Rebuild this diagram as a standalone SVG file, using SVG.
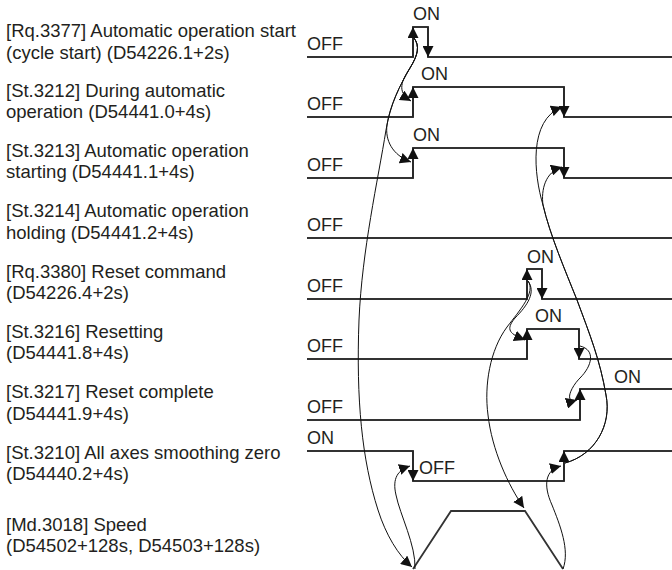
<svg xmlns="http://www.w3.org/2000/svg" width="672" height="570" viewBox="0 0 672 570">
<style>
.lbl{font-family:"Liberation Sans",Arial,sans-serif;font-size:18.5px;fill:#231f20}
.st{font-family:"Liberation Sans",Arial,sans-serif;font-size:18px;fill:#231f20}
.wave{fill:none;stroke:#333;stroke-width:1.8}
.edge{stroke:#222;stroke-width:1.5;marker-end:url(#ah)}
.cv{fill:none;stroke:#111;stroke-width:1;marker-end:url(#ah)}
</style>
<defs>
<marker id="ah" markerUnits="userSpaceOnUse" markerWidth="11" markerHeight="11" refX="11" refY="5.5" orient="auto" viewBox="0 0 11 11">
<path d="M0,0 L11,5.5 L0,11 z" fill="#111"/>
</marker>
</defs>
<rect width="672" height="570" fill="#fff"/>

<g id="row1">
<text class="lbl" x="6" y="37">[Rq.3377] Automatic operation start</text>
<text class="lbl" x="6" y="59">(cycle start) (D54226.1+2s)</text>
<text class="st" x="307" y="50">OFF</text>
<text class="st" x="413" y="20">ON</text>
<polyline class="wave" points="307,57 413,57 413,27 428,27 428,57 672,57"/>
<line class="edge" x1="413" y1="57" x2="413" y2="27"/>
<line class="edge" x1="428" y1="27" x2="428" y2="57"/>
</g>

<g id="row2">
<text class="lbl" x="6" y="97">[St.3212] During automatic</text>
<text class="lbl" x="6" y="118">operation (D54441.0+4s)</text>
<text class="st" x="307" y="110">OFF</text>
<text class="st" x="421" y="80">ON</text>
<polyline class="wave" points="307,117 413,117 413,87 564,87 564,117 672,117"/>
<line class="edge" x1="413" y1="117" x2="413" y2="87"/>
<line class="edge" x1="564" y1="87" x2="564" y2="117"/>
</g>

<g id="row3">
<text class="lbl" x="6" y="157">[St.3213] Automatic operation</text>
<text class="lbl" x="6" y="178">starting (D54441.1+4s)</text>
<text class="st" x="307" y="171">OFF</text>
<text class="st" x="413" y="141">ON</text>
<polyline class="wave" points="307,178 413,178 413,148 564,148 564,178 672,178"/>
<line class="edge" x1="413" y1="178" x2="413" y2="148"/>
<line class="edge" x1="564" y1="148" x2="564" y2="178"/>
</g>

<g id="row4">
<text class="lbl" x="6" y="217">[St.3214] Automatic operation</text>
<text class="lbl" x="6" y="239">holding (D54441.2+4s)</text>
<text class="st" x="307" y="231">OFF</text>
<polyline class="wave" points="307,238 672,238"/>
</g>

<g id="row5">
<text class="lbl" x="6" y="278">[Rq.3380] Reset command</text>
<text class="lbl" x="6" y="299">(D54226.4+2s)</text>
<text class="st" x="307" y="292">OFF</text>
<text class="st" x="527" y="263">ON</text>
<polyline class="wave" points="307,299 527,299 527,269 542,269 542,299 672,299"/>
<line class="edge" x1="527" y1="299" x2="527" y2="269"/>
<line class="edge" x1="542" y1="269" x2="542" y2="299"/>
</g>

<g id="row6">
<text class="lbl" x="6" y="338">[St.3216] Resetting</text>
<text class="lbl" x="6" y="359">(D54441.8+4s)</text>
<text class="st" x="307" y="352">OFF</text>
<text class="st" x="535" y="322">ON</text>
<polyline class="wave" points="307,359 527,359 527,329 579,329 579,359 672,359"/>
<line class="edge" x1="527" y1="359" x2="527" y2="329"/>
<line class="edge" x1="579" y1="329" x2="579" y2="359"/>
</g>

<g id="row7">
<text class="lbl" x="6" y="398">[St.3217] Reset complete</text>
<text class="lbl" x="6" y="420">(D54441.9+4s)</text>
<text class="st" x="307" y="413">OFF</text>
<text class="st" x="614" y="383">ON</text>
<polyline class="wave" points="307,420 580,420 580,389 672,389"/>
<line class="edge" x1="580" y1="420" x2="580" y2="389"/>
</g>

<g id="row8">
<text class="lbl" x="6" y="459">[St.3210] All axes smoothing zero</text>
<text class="lbl" x="6" y="480">(D54440.2+4s)</text>
<text class="st" x="307" y="444">ON</text>
<text class="st" x="419" y="474">OFF</text>
<polyline class="wave" points="307,451 413,451 413,481 564,481 564,451 672,451"/>
<line class="edge" x1="413" y1="451" x2="413" y2="481"/>
<line class="edge" x1="564" y1="481" x2="564" y2="451"/>
</g>

<g id="speed">
<text class="lbl" x="6" y="531">[Md.3018] Speed</text>
<text class="lbl" x="6" y="552">(D54502+128s, D54503+128s)</text>
<polyline class="wave" points="413,569 451,511 525,511 563,569"/>
</g>

<g id="connectors">
<path class="cv" d="M414,38 C420,46 418,55 410,68 C402,80 396,92 411,101"/>
<path class="cv" d="M414,38 C420,46 418,55 410,68 C400,85 390,105 387,125 C385,140 392,155 411,162"/>
<path class="cv" d="M414,38 C420,46 418,55 410,68 C400,85 390,105 386,130 C378,180 362,250 359,320 C356,400 362,460 378,510 C386,535 398,555 412,567"/>
<path class="cv" d="M565,463 C595,455 612,425 606,395 C600,360 590,335 577,300 C565,270 550,235 543,205 C534,175 528,120 562,107"/>
<path class="cv" d="M565,463 C595,455 612,425 606,395 C600,360 590,335 577,300 C565,270 550,235 543,205 C541,190 545,172 562,167"/>
<path class="cv" d="M528,281 C536,292 528,305 515,318 C505,330 510,334 525,340"/>
<path class="cv" d="M528,281 C536,292 520,310 507,327 C490,350 484,385 488,415 C492,450 508,485 524,508"/>
<path class="cv" d="M580,346 C596,350 592,366 580,378 C570,388 564,404 577,400"/>
<path class="cv" d="M415,569 C416,545 400,515 396,495 C392,478 398,470 410,466"/>
<path class="cv" d="M563,569 C570,550 560,525 552,505 C543,485 545,470 561,466"/>
</g>
</svg>
